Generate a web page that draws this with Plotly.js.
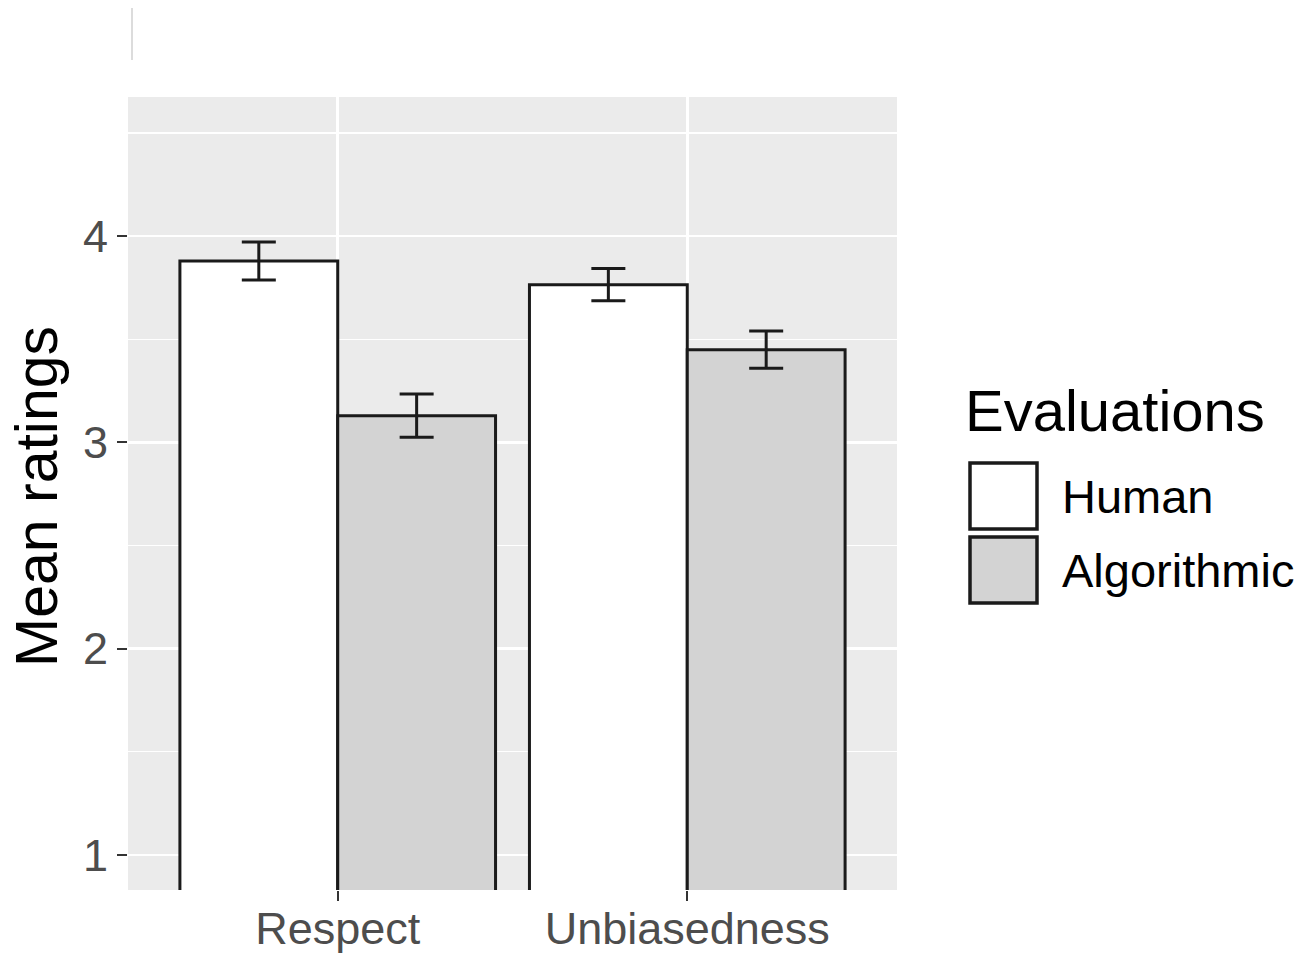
<!DOCTYPE html>
<html>
<head>
<meta charset="utf-8">
<script src="https://cdn.plot.ly/plotly-3.0.1.min.js"></script>
<style>html,body{margin:0;padding:0;background:#fff;}#chart{width:1316px;height:956px;}</style>
</head>
<body>
<div id="chart"></div>
<script>
const categories = ["Respect", "Unbiasedness"];
const groups = ["Human", "Algorithmic"];
const humanMeans = [3.88, 3.765];
const humanErr = [0.092, 0.078];
const algoMeans = [3.13, 3.45];
const algoErr = [0.105, 0.09];
const yTicks = [1, 2, 3, 4];
const groupFills = ["#FFFFFF", "#D3D3D3"];

const L = 128, R = 897, T = 97, B = 890;
const W = 1316, H = 956;
const px = x => (x - L) / (R - L);
const py = y => (B - y) / (B - T);

const font = "Liberation Sans, Arial, Helvetica, sans-serif";

function barTrace(name, vals, errs, fill) {
  return {
    type: "bar", name: name, x: categories, y: vals,
    marker: {color: fill, line: {color: "#1a1a1a", width: 3}},
    error_y: {type: "data", array: errs, visible: true, color: "#1a1a1a", thickness: 3, width: 17},
    showlegend: false, hoverinfo: "x+y"
  };
}

const data = [
  barTrace(groups[0], humanMeans, humanErr, groupFills[0]),
  barTrace(groups[1], algoMeans, algoErr, groupFills[1])
];

const shapes = [];
const annotations = [];
// legend
const boxX0 = 970, boxX1 = 1037;
const boxY = [[463, 529], [537, 603]];
groups.forEach((g, i) => {
  shapes.push({type: "rect", xref: "paper", yref: "paper",
    x0: px(boxX0), x1: px(boxX1), y0: py(boxY[i][1]), y1: py(boxY[i][0]),
    fillcolor: groupFills[i], line: {color: "#1a1a1a", width: 3.5}});
  annotations.push({xref: "paper", yref: "paper", x: px(1060), y: py((boxY[i][0] + boxY[i][1]) / 2),
    xanchor: "left", yanchor: "middle", text: g, showarrow: false,
    font: {family: font, size: 47, color: "#000"}});
});
annotations.push({xref: "paper", yref: "paper", x: px(963), y: py(411),
  xanchor: "left", yanchor: "middle", text: "Evaluations", showarrow: false,
  font: {family: font, size: 58, color: "#000"}});
annotations.push({xref: "paper", yref: "paper", x: px(37), y: py(497),
  xanchor: "center", yanchor: "middle", text: "Mean ratings", textangle: -90, showarrow: false,
  font: {family: font, size: 59, color: "#000"}});
// faint artifact line at top-left
shapes.push({type: "line", xref: "paper", yref: "paper", x0: px(132), x1: px(132), y0: py(60), y1: py(8),
  line: {color: "#dcdcdc", width: 2}});

const layout = {
  width: W, height: H,
  margin: {l: L, r: W - R, t: T, b: H - B, pad: 0},
  paper_bgcolor: "#FFFFFF", plot_bgcolor: "#EBEBEB",
  barmode: "group", bargap: 0.097, bargroupgap: 0,
  showlegend: false,
  xaxis: {
    type: "category", range: [-0.6, 1.6], showgrid: true, gridcolor: "#FFFFFF", gridwidth: 2.5,
    zeroline: false, showline: false, ticks: "outside", ticklen: 10, tickwidth: 2, tickcolor: "#333333",
    ticklabelstandoff: -11,
    tickfont: {family: font, size: 45, color: "#4D4D4D"}, fixedrange: true
  },
  yaxis: {
    range: [0.83, 4.675], tickmode: "array", tickvals: yTicks, ticktext: yTicks.map(String),
    showgrid: true, gridcolor: "#FFFFFF", gridwidth: 2.5,
    minor: {tickmode: "array", tickvals: [1.5, 2.5, 3.5, 4.5], showgrid: true, gridcolor: "#FFFFFF", gridwidth: 1.2, ticks: ""},
    zeroline: false, showline: false, ticks: "outside", ticklen: 10, tickwidth: 2, tickcolor: "#333333",
    tickfont: {family: font, size: 45, color: "#4D4D4D"}, fixedrange: true
  },
  shapes: shapes, annotations: annotations
};

Plotly.newPlot("chart", data, layout, {displayModeBar: false, staticPlot: true});
</script>
</body>
</html>
